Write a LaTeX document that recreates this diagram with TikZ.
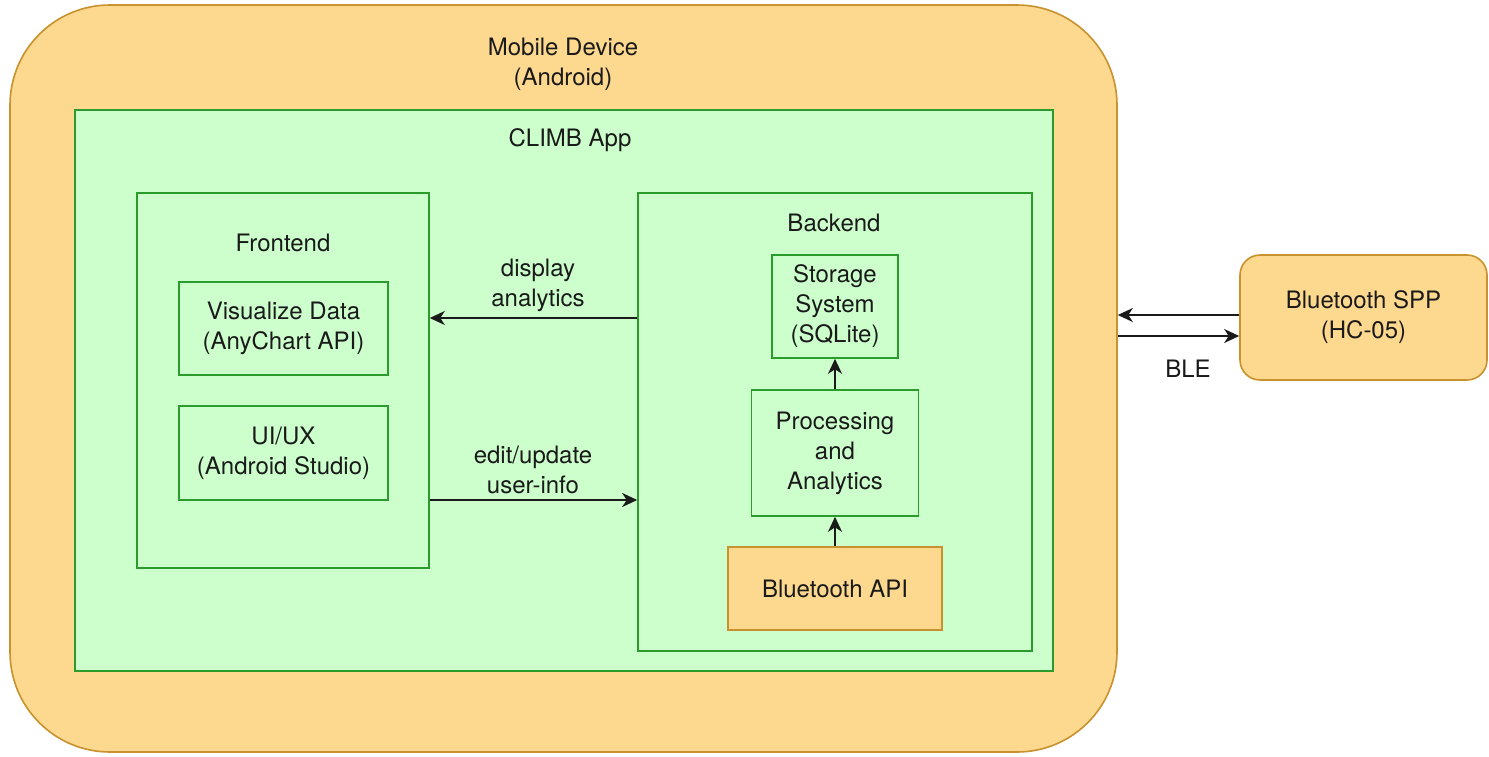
\documentclass[tikz,border=0pt]{standalone}
\usepackage{fontspec}
\setmainfont{TeX Gyre Heros}
\usetikzlibrary{arrows.meta}
\definecolor{orfill}{HTML}{FDD88F}
\definecolor{ordraw}{HTML}{C8922E}
\definecolor{grfill}{HTML}{CCFFCC}
\definecolor{grdraw}{HTML}{2B9B2B}
\definecolor{txt}{HTML}{1A1A1A}
\begin{document}
\begin{tikzpicture}[x=1pt,y=-1pt,
  font=\fontsize{24}{30}\selectfont,
  wh/.style 2 args={minimum width=#1pt, minimum height=#2pt},
  obox/.style={draw=ordraw, fill=orfill, line width=1.6pt, inner sep=0pt, align=center, text=txt},
  gbox/.style={draw=grdraw, fill=grfill, line width=1.6pt, inner sep=0pt, align=center, text=txt},
  lbl/.style={inner sep=0pt, align=center, text=txt},
  arr/.style={draw=txt, line width=1.8pt, -{Stealth[length=15pt,width=14pt,inset=4.5pt]}}]
\useasboundingbox[fill=white] (0,0) rectangle (1489,756);
% outer device
\node[obox, rounded corners=100pt, wh={1107}{747}] (mobile) at (563.5,378.5) {};
\node[lbl] (mobilelbl) at (563,64) {Mobile Device\\(Android)};
% app
\node[gbox, wh={978}{561}] (climb) at (564,390.5) {};
\node[lbl] (climblbl) at (570,140) {CLIMB App};
% frontend
\node[gbox, wh={292}{375}] (frontend) at (283,380.5) {};
\node[lbl] (frontlbl) at (283,243) {Frontend};
\node[gbox, wh={209}{93}] (vis) at (283.5,328.5) {Visualize Data\\(AnyChart API)};
\node[gbox, wh={209}{94}] (uiux) at (283.5,453) {UI/UX\\(Android Studio)};
% backend
\node[gbox, wh={394}{458}] (backend) at (835,422) {};
\node[lbl] (backlbl) at (834,223) {Backend};
\node[gbox, wh={126}{103}] (storage) at (835,306.5) {Storage\\System\\(SQLite)};
\node[gbox, wh={167}{126}] (proc) at (835,453) {Processing\\and\\Analytics};
\node[obox, wh={214}{83}] (btapi) at (835,588.5) {Bluetooth API};
% external
\node[obox, rounded corners=20pt, wh={247}{125}] (spp) at (1363.5,317.5) {Bluetooth SPP\\(HC-05)};
% connectors
\coordinate (dispy) at (0,318);
\coordinate (edity) at (0,500);
\coordinate (bletop) at (0,315);
\coordinate (blebot) at (0,336);
\draw[arr] (backend.west |- dispy) -- (frontend.east |- dispy);
\draw[arr] (frontend.east |- edity) -- (backend.west |- edity);
\draw[arr] (proc.north) -- (storage.south);
\draw[arr] (btapi.north) -- (proc.south);
\draw[arr] (spp.west |- bletop) -- (mobile.east |- bletop);
\draw[arr] (mobile.east |- blebot) -- (spp.west |- blebot);
\node[lbl] (displbl) at (538,285) {display\\analytics};
\node[lbl] (editlbl) at (533,470) {edit/update\\user-info};
\node[lbl] (blelbl) at (1188,369) {BLE};
\end{tikzpicture}
\end{document}
